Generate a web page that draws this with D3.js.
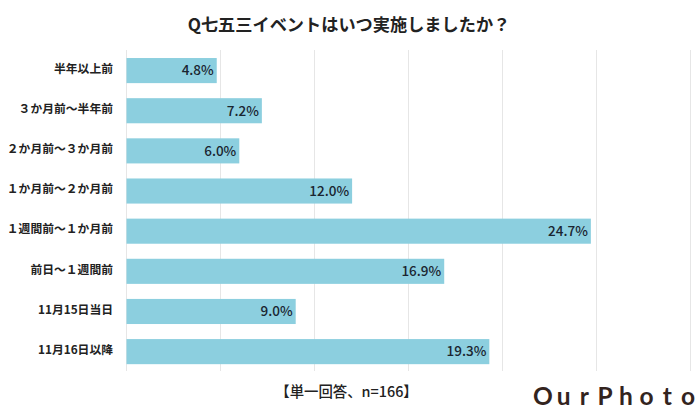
<!DOCTYPE html>
<html>
<head>
<meta charset="utf-8">
<script src="https://cdn.jsdelivr.net/npm/d3@7"></script>
<style>
body { margin: 0; background: #fff; }
text { font-family: "Noto Sans CJK JP", sans-serif; }
</style>
</head>
<body>
<script>
const categories = ["半年以上前", "３か月前～半年前", "２か月前～３か月前", "１か月前～２か月前", "１週間前～１か月前", "前日～１週間前", "11月15日当日", "11月16日以降"];
const values = [4.8, 7.2, 6.0, 12.0, 24.7, 16.9, 9.0, 19.3];
const gridTicks = [0, 5, 10, 15, 20, 25, 30];
const logoLetters = ["O", "u", "r", "P", "h", "o", "t", "o"];

const svg = d3.select("body").append("svg")
    .attr("width", 700)
    .attr("height", 410)
    .style("display", "block");

const x = d3.scaleLinear().domain([0, 30]).range([126.5, 690.5]);
const y = d3.scaleBand().domain(categories).range([50.5, 371.7]).paddingInner(0.375).paddingOuter(0.1875);

// gridlines
svg.append("g").selectAll("line")
    .data(gridTicks)
    .enter()
    .append("line")
    .attr("x1", d => x(d))
    .attr("x2", d => x(d))
    .attr("y1", 50)
    .attr("y2", 371)
    .attr("stroke", "#e6e6e6")
    .attr("stroke-width", 1);

svg.append("g").selectAll("rect")
    .data(values)
    .enter()
    .append("rect")
    .attr("x", x(0))
    .attr("y", (d, i) => y(categories[i]))
    .attr("width", d => x(d) - x(0))
    .attr("height", y.bandwidth())
    .attr("fill", "#8ccfdf");

// value labels
svg.append("g").selectAll("text")
    .data(values)
    .enter()
    .append("text")
    .attr("x", d => x(d) - 3)
    .attr("y", (d, i) => y(categories[i]) + y.bandwidth() / 2)
    .attr("dy", "0.36em")
    .attr("text-anchor", "end")
    .attr("font-size", 13.5)
    .attr("font-weight", 500)
    .attr("fill", "#1a2530")
    .text(d => d.toFixed(1) + "%");

// category labels
svg.append("g").selectAll("text")
    .data(categories)
    .enter()
    .append("text")
    .attr("x", 113)
    .attr("y", d => y(d) + y.bandwidth() / 2 - 2)
    .attr("dy", "0.36em")
    .attr("text-anchor", "end")
    .attr("font-size", 11.8)
    .attr("font-weight", 700)
    .attr("fill", "#222")
    .text(d => d);

svg.append("text")
    .attr("x", 349)
    .attr("y", 31)
    .attr("text-anchor", "middle")
    .attr("font-size", 17.2)
    .attr("font-weight", 700)
    .attr("fill", "#222")
    .text("Q七五三イベントはいつ実施しましたか？");

svg.append("text")
    .attr("x", 346.5)
    .attr("y", 397)
    .attr("text-anchor", "middle")
    .attr("font-size", 14.4)
    .attr("font-weight", 500)
    .attr("fill", "#222")
    .text("【単一回答、n=166】");

// logo, letters spaced out one by one
const xLogo = d3.scalePoint().domain(d3.range(logoLetters.length)).range([543, 688]);
svg.append("g").selectAll("text")
    .data(logoLetters)
    .enter()
    .append("text")
    .attr("x", (d, i) => xLogo(i))
    .attr("y", 404.5)
    .attr("text-anchor", "middle")
    .style("font-family", "Lato")
    .attr("font-size", 24.5)
    .attr("font-weight", 700)
    .attr("fill", "#33241e")
    .text(d => d);
</script>
</body>
</html>
